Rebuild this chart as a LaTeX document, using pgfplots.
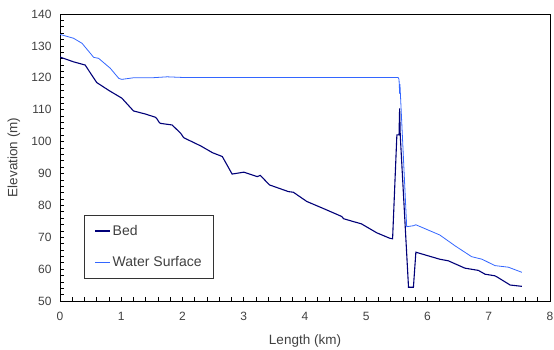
\documentclass[border=0pt]{standalone}
\usepackage{pgfplots}
\pgfplotsset{compat=1.18}
\usepackage{fontspec}
\setmainfont{Liberation Sans}
\definecolor{bedc}{RGB}{0,0,120}
\definecolor{watc}{RGB}{51,102,255}
\begin{document}
\begin{tikzpicture}
\begin{axis}[
  scale only axis,
  width=490pt, height=287pt,
  xmin=0, xmax=8, ymin=50, ymax=140,
  xtick={0,1,...,8}, ytick={50,60,...,140},
  minor x tick num=4, minor y tick num=4,
  tick pos=left,
  tick align=inside,
  major tick length=4pt, minor tick length=4pt,
  tick style={black, line width=0.6pt},
  axis line style={black, line width=0.9pt},
  /pgf/number format/assume math mode=true,
  ticklabel style={font=\fontsize{12}{14}\selectfont, text=black!75},
  xticklabel style={yshift=-8pt},
  yticklabel style={xshift=-5pt},
  xlabel={Length (km)}, ylabel={Elevation (m)},
  label style={font=\fontsize{13.5}{16}\selectfont, text=black!75},
  xlabel style={at={(axis description cs:0.5,0)}, anchor=center, yshift=-40pt},
  ylabel style={at={(axis description cs:-0.094,0.5)}, anchor=center},
  legend style={at={(axis cs:0.397,77.0)}, anchor=north west, draw=black!80, line width=0.6pt,
    font=\fontsize{14}{16}\selectfont, text=black!75, inner xsep=10pt, inner ysep=8pt,
    /tikz/every even column/.append style={column sep=2pt},
    row sep=16pt, legend cell align=left},
  legend image code/.code={\draw[#1] (0pt,0pt) -- (15pt,0pt);},
]
\addplot[bedc, line width=1.1pt] coordinates {
(0,126.5) (0.22,125.0) (0.41,124.0) (0.60,118.5) (0.80,116.0) (1.01,113.6) (1.2,109.6)
(1.40,108.6) (1.56,107.6) (1.58,107.2) (1.62,106.0) (1.64,105.7) (1.83,105.2) (1.97,102.6)
(2.02,101.2) (2.30,98.6) (2.49,96.5) (2.65,95.3) (2.81,89.8) (3.0,90.4) (3.22,89.0)
(3.27,89.4) (3.42,86.4) (3.73,84.3) (3.81,84.1) (4.03,81.2) (4.30,79.0) (4.60,76.5)
(4.63,75.8) (4.79,74.9) (4.92,74.2) (5.17,71.4) (5.38,69.7) (5.43,69.5) (5.50,102.1)
(5.535,102.1) (5.545,110.4) (5.555,102.0) (5.69,54.3) (5.77,54.3) (5.81,65.3) (6.20,63.1)
(6.34,62.6) (6.61,60.3) (6.83,59.6) (6.94,58.4) (7.10,57.9) (7.13,57.6) (7.35,55.0) (7.54,54.6)
};
\addlegendentry{Bed}
\addplot[watc, line width=0.8pt] coordinates {
(0,133.6) (0.22,132.4) (0.36,130.8) (0.55,126.4) (0.63,126.1) (0.82,123.0) (0.96,119.8)
(1.01,119.5) (1.2,120.0) (1.5,120.0) (1.75,120.3) (2.0,120.1) (3.0,120.1) (4.0,120.1)
(5.0,120.1) (5.52,120.1) (5.535,119.5) (5.545,115.0) (5.55,118.0) (5.66,73.3) (5.77,73.6)
(5.81,73.9) (6.20,70.7) (6.45,67.3) (6.72,63.9) (6.89,63.1) (7.10,61.1) (7.32,60.6) (7.54,59.0)
};
\addlegendentry{Water Surface}
\end{axis}
\pgfresetboundingbox
\path (current axis.south west) ++(-60pt,-49pt) coordinate (a);
\path (current axis.north east) ++(4pt,14pt) coordinate (b);
\path (a) rectangle (b);
\end{tikzpicture}
\end{document}
